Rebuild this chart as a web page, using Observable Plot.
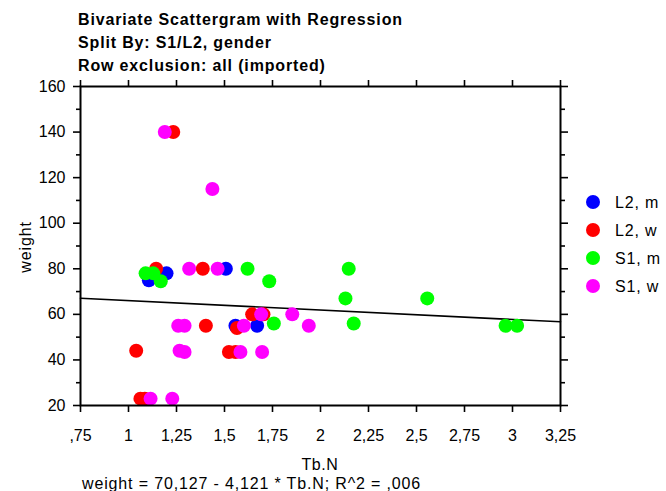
<!DOCTYPE html>
<html><head><meta charset="utf-8">
<script src="https://cdn.jsdelivr.net/npm/d3@7"></script>
<script src="https://cdn.jsdelivr.net/npm/@observablehq/plot@0.6"></script>
<style>
body{margin:0;background:#fff;}
#wrap{position:relative;width:666px;height:491px;font-family:"Liberation Sans",Arial,sans-serif;color:#000;background:#fff;overflow:hidden;}
#wrap svg{position:absolute;left:0;top:0;}
</style></head>
<body><div id="wrap"></div>
<script>
// ---- data ----
const titleLines = ["Bivariate Scattergram with Regression", "Split By: S1/L2, gender", "Row exclusion: all (imported)"];
const xLabel = "Tb.N";
const yLabel = "weight";
const footer = "weight = 70,127 - 4,121 * Tb.N; R^2 = ,006";

const groups = ["L2, m", "L2, w", "S1, m", "S1, w"];
const groupColors = ["#0000ff", "#ff0000", "#00ff00", "#ff00ff"];

const l2mX = [1.198, 1.106, 1.507, 1.557, 1.670];
const l2mY = [78, 75, 80, 55, 55];
const l2wX = [1.233, 1.144, 1.387, 1.644, 1.703, 1.403, 1.565, 1.040, 1.523, 1.557, 1.062, 1.085];
const l2wY = [140, 80, 80, 60, 60, 55, 54, 44, 43.5, 43.5, 23, 23];
const s1mX = [1.089, 1.129, 1.168, 1.620, 1.733, 2.147, 2.130, 2.556, 1.757, 2.173, 2.964, 3.024];
const s1mY = [78, 78, 74.5, 80, 74.5, 80, 67, 67, 56, 56, 55, 55];
const s1wX = [1.189, 1.437, 1.316, 1.464, 1.691, 1.853, 1.259, 1.292, 1.601, 1.939, 1.266, 1.292, 1.583, 1.696, 1.115, 1.228];
const s1wY = [140, 115, 80, 80, 60, 60, 55, 55, 55, 55, 44, 43.5, 43.5, 43.5, 23, 23];

const regIntercept = 70.127;
const regSlope = -4.121;
const regX = [0.75, 3.25];

const xTicks = [0.75, 1, 1.25, 1.5, 1.75, 2, 2.25, 2.5, 2.75, 3, 3.25];
const xTickLabels = [",75", "1", "1,25", "1,5", "1,75", "2", "2,25", "2,5", "2,75", "3", "3,25"];
const yTicks = [20, 40, 60, 80, 100, 120, 140, 160];
const yTickLabels = ["20", "40", "60", "80", "100", "120", "140", "160"];
const yMinor = [30, 50, 70, 90, 110, 130, 150];

// ---- build table ----
const series = [[l2mX, l2mY], [l2wX, l2wY], [s1mX, s1mY], [s1wX, s1wY]];
const rows = [];
series.forEach(([xs, ys], g) => xs.forEach((x, i) => rows.push({x, y: ys[i], group: groups[g]})));
const xFmt = new Map(xTicks.map((t, i) => [t, xTickLabels[i]]));
const yFmt = new Map(yTicks.map((t, i) => [t, yTickLabels[i]]));

const plot = Plot.plot({
  width: 666, height: 491,
  marginLeft: 80, marginRight: 106, marginTop: 86, marginBottom: 86,
  x: {domain: [0.75, 3.25]},
  y: {domain: [20, 160]},
  color: {domain: groups, range: groupColors},
  style: {fontFamily: '"Liberation Sans", Arial, sans-serif', fontSize: "16px", color: "black", background: "transparent"},
  marks: [
    Plot.line(regX, {x: d => d, y: d => regIntercept + regSlope * d, stroke: "black", strokeWidth: 1.6}),
    Plot.dot(rows, {x: "x", y: "y", fill: "group", r: 7}),
    Plot.frame({stroke: "black", strokeWidth: 2}),
    Plot.axisX({anchor: "bottom", ticks: xTicks, tickFormat: d => xFmt.get(d), tickSize: 7, tickPadding: 17, label: null, strokeWidth: 1.6}),
    Plot.axisX({anchor: "top", ticks: xTicks, tickFormat: () => "", tickSize: 7, label: null, strokeWidth: 1.6}),
    Plot.axisY({anchor: "left", ticks: yTicks, tickFormat: d => yFmt.get(d), tickSize: 7, tickPadding: 8, label: null, strokeWidth: 1.6}),
    Plot.axisY({anchor: "left", ticks: yMinor, tickFormat: () => "", tickSize: 4, label: null, strokeWidth: 1.6}),
    Plot.axisY({anchor: "right", ticks: yTicks, tickFormat: () => "", tickSize: 7, label: null, strokeWidth: 1.6}),
    Plot.axisY({anchor: "right", ticks: yMinor, tickFormat: () => "", tickSize: 4, label: null, strokeWidth: 1.6})
  ]
});
document.getElementById("wrap").appendChild(plot);

// ---- overlay text: titles, axis titles, legend, footer ----
const ov = d3.select("#wrap").append("svg")
  .attr("width", 666).attr("height", 491)
  .style("font-family", '"Liberation Sans", Arial, sans-serif')
  .style("pointer-events", "none");

ov.selectAll("text.title").data(titleLines).join("text")
  .attr("x", 78).attr("y", (d, i) => 25 + i * 23)
  .attr("font-size", 16).attr("font-weight", "bold").attr("letter-spacing", 0.85)
  .text(d => d);

ov.append("text").attr("x", 320).attr("y", 470).attr("text-anchor", "middle")
  .attr("font-size", 16).attr("letter-spacing", 0.6).text(xLabel);

ov.append("text").attr("transform", "translate(31,247) rotate(-90)").attr("text-anchor", "middle")
  .attr("font-size", 16).attr("letter-spacing", 0.85).text(yLabel);

ov.append("text").attr("x", 82).attr("y", 488.5)
  .attr("font-size", 16).attr("letter-spacing", 0.85).text(footer);

const legY = [202, 230, 258, 286];
const lg = ov.selectAll("g.leg").data(groups).join("g")
  .attr("transform", (d, i) => `translate(593,${legY[i]})`);
lg.append("circle").attr("r", 7).attr("fill", (d, i) => groupColors[i]);
lg.append("text").attr("x", 22).attr("y", 5.7).attr("font-size", 16).attr("letter-spacing", 0.85).text(d => d);
</script></body></html>
